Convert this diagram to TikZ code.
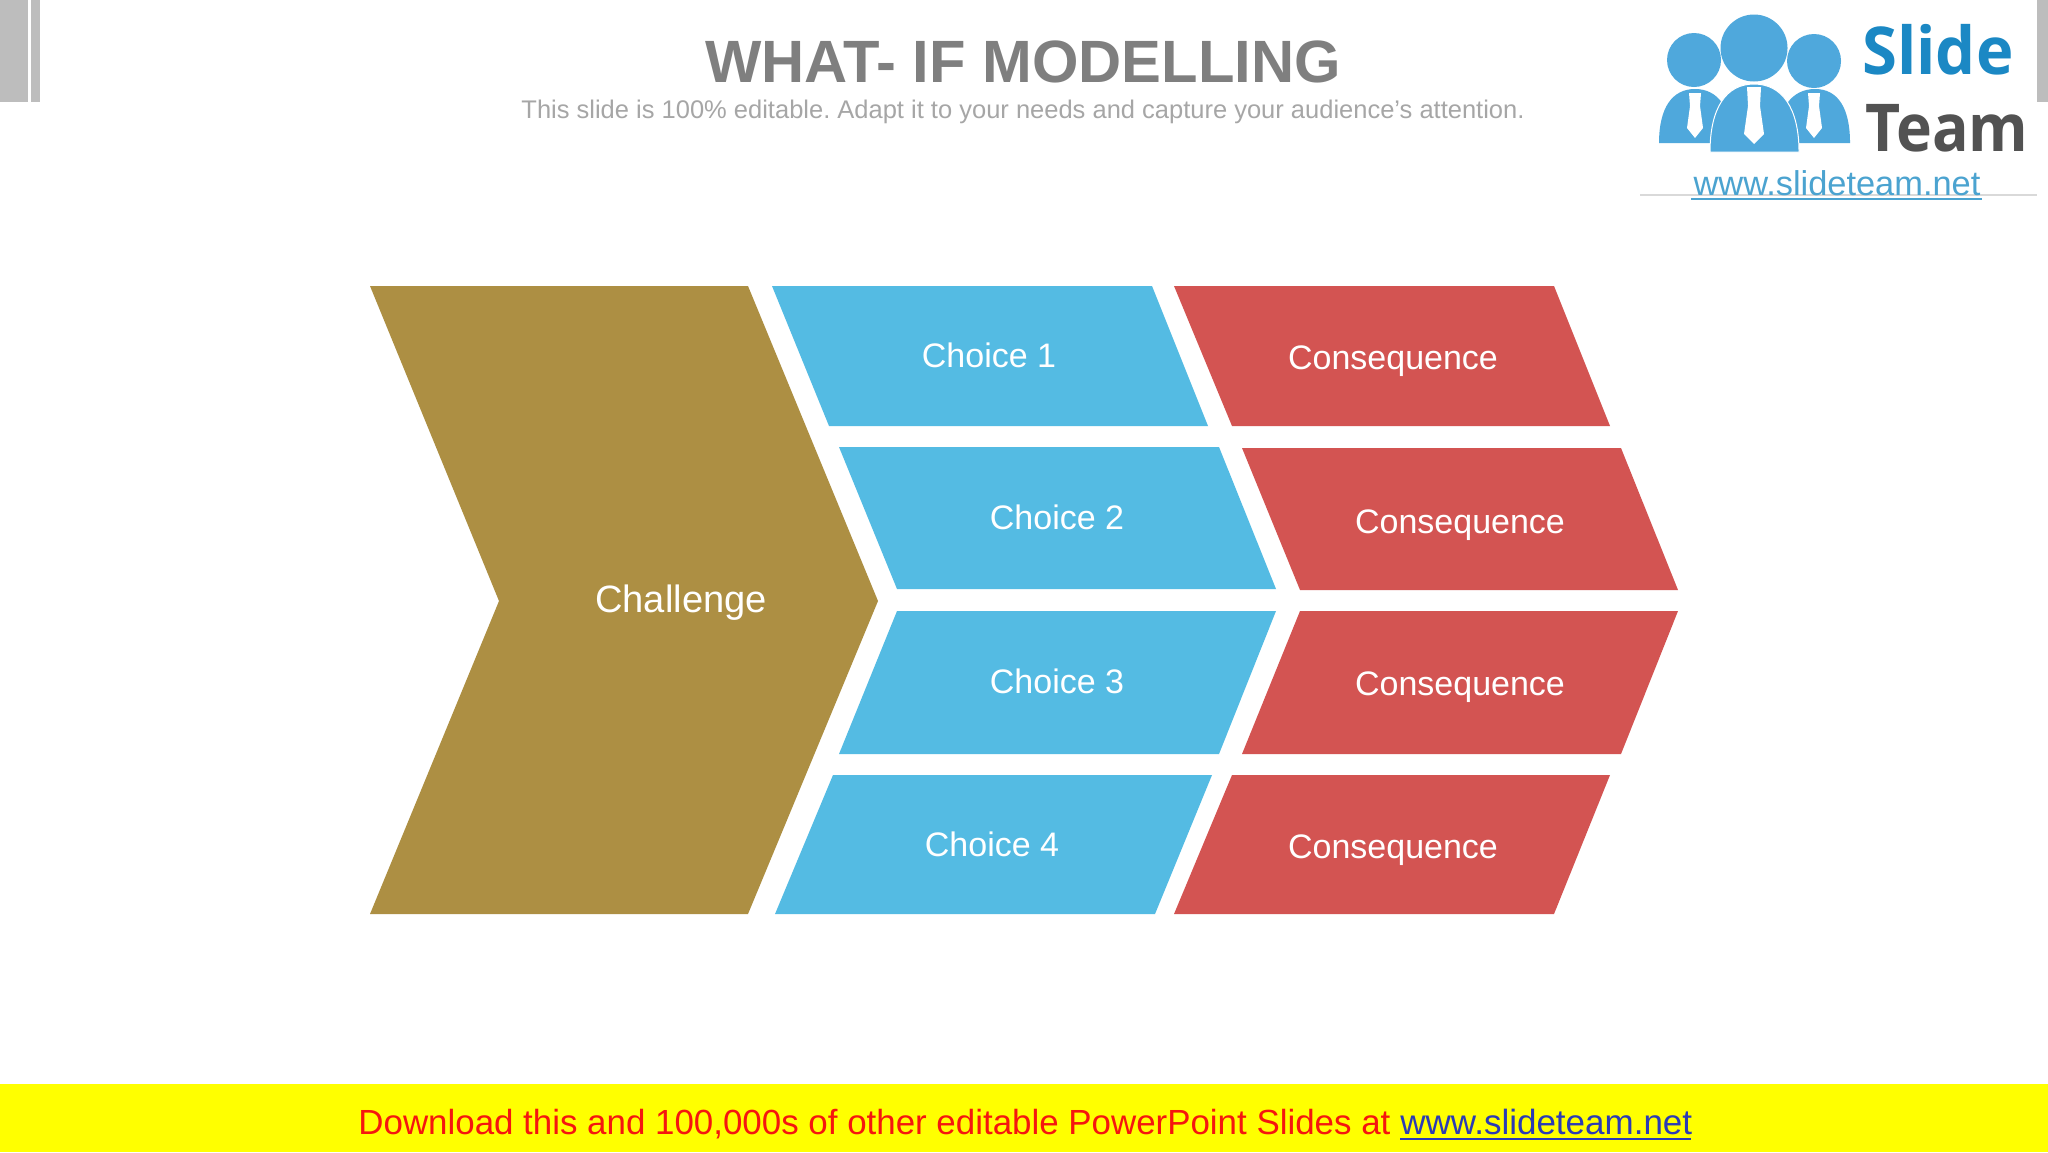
\documentclass[tikz,border=0pt]{standalone}
\usepackage{fontspec}
\setmainfont{Liberation Sans}
\newfontfamily\logofont{Open Sans}
\usetikzlibrary{calc}
\definecolor{gold}{HTML}{AD8F43}
\definecolor{sky}{HTML}{54BBE3}
\definecolor{brick}{HTML}{D35452}
\definecolor{barg}{HTML}{BDBDBD}
\definecolor{logob}{HTML}{4FA8DC}
\definecolor{logod}{HTML}{1B88C4}
\definecolor{linkb}{HTML}{4BA3D0}
\definecolor{bandy}{HTML}{FFFF00}
\definecolor{footred}{HTML}{F5160F}
\definecolor{footblue}{HTML}{2B3BB5}
\definecolor{titleg}{HTML}{7F7F7F}
\definecolor{subg}{HTML}{A6A6A6}
\newcommand{\fs}[1]{\fontsize{#1}{#1}\selectfont}
\tikzset{
 x=0.5pt,y=-0.5pt,
 label/.style={text=white,inner sep=0pt,anchor=center,font=\fs{17}},
 goldshape/.style={fill=gold},
 skyshape/.style={fill=sky},
 brickshape/.style={fill=brick},
 logofill/.style={fill=logob},
 tie/.style={fill=white},
}
\begin{document}
\begin{tikzpicture}
\useasboundingbox (0,0) rectangle (2048,1152);
\fill[white] (0,0) rectangle (2048,1152);
% corner bars
\fill[barg] (0,0) rectangle (28,102);
\fill[barg] (31,0) rectangle (40,102);
\fill[gray!12] (2010,0) rectangle (2017,102);
\fill[barg] (2037,0) rectangle (2048,102);
% title
\node[inner sep=0pt,text=titleg,font=\fs{29.85}\bfseries] (title) at (1023,62) {WHAT- IF MODELLING};
\node[inner sep=0pt,text=subg,font=\fs{12.75}] (sub) at (1023,112) {\frenchspacing This slide is 100\% editable. Adapt it to your needs and capture your audience{\char"27}s attention.};
% challenge
\fill[goldshape] (370,286) -- (748,286) -- (878,601) -- (748,914) -- (370,914) -- (499,601) -- cycle;
\node[label,font=\fs{19.05}] (challenge) at (681,603) {Challenge};
% choices
\fill[skyshape] (772,286) -- (1152,286) -- (1208,426) -- (829,426) -- cycle;
\fill[skyshape] (839,447) -- (1219,447) -- (1276,589) -- (897,589) -- cycle;
\fill[skyshape] (897,611) -- (1276,611) -- (1219,754) -- (839,754) -- cycle;
\fill[skyshape] (833,775) -- (1212,775) -- (1155,914) -- (775,914) -- cycle;
\node[label] (c1) at (989,355) {Choice 1};
\node[label] (c2) at (1057,517) {Choice 2};
\node[label] (c3) at (1057,681) {Choice 3};
\node[label] (c4) at (992,844) {Choice 4};
% consequences
\fill[brickshape] (1174,286) -- (1554,286) -- (1610,426) -- (1232,426) -- cycle;
\fill[brickshape] (1242,448) -- (1621,448) -- (1678,590) -- (1300,590) -- cycle;
\fill[brickshape] (1300,611) -- (1678,611) -- (1621,754) -- (1242,754) -- cycle;
\fill[brickshape] (1232,775) -- (1610,775) -- (1554,914) -- (1174,914) -- cycle;
\node[label] (d1) at (1393,361) {Consequence};
\node[label] (d2) at (1460,525) {Consequence};
\node[label] (d3) at (1460,687) {Consequence};
\node[label] (d4) at (1393,850) {Consequence};
% logo
\fill[white] (1640,0) rectangle (2037,102);
\fill[white] (1640,102) rectangle (2048,195);
\draw[black!15,line width=0.6pt] (1640,195) -- (2037,195);
\fill[logofill] (1694,60) circle (27);
\fill[logofill] (1814,61) circle (27);
\fill[logofill] (1754,48) circle (33.5);
\fill[logofill] (1659,143) .. controls (1659,108) and (1672,89) .. (1695,89) .. controls (1718,89) and (1732,108) .. (1732,143) -- cycle;
\fill[logofill] (1777,143) .. controls (1777,108) and (1792,89) .. (1815,89) .. controls (1838,89) and (1850,108) .. (1850,143) -- cycle;
\draw[white,line width=0.5pt,fill=logob] (1710,152) .. controls (1710,108) and (1726,84) .. (1754,84) .. controls (1782,84) and (1799,108) .. (1799,152) -- cycle;
\fill[tie] (1689,93) -- (1701,93) -- (1700,106) -- (1703,128) -- (1695,138) -- (1687,128) -- (1690,106) -- cycle;
\fill[tie] (1808,93) -- (1820,93) -- (1819,106) -- (1822,128) -- (1814,138) -- (1806,128) -- (1809,106) -- cycle;
\fill[tie] (1747,87) -- (1761,87) -- (1760,106) -- (1764,134) -- (1754,144) -- (1744,134) -- (1748,106) -- cycle;
\node[inner sep=0pt,anchor=base west,text=logod,font=\logofont\fs{33}\bfseries,xscale=0.96] (slide) at (1862,74) {Slide};
\node[inner sep=0pt,anchor=base west,text=black!68,font=\logofont\fs{33}\bfseries,xscale=0.92] (team) at (1865,151) {Team};
\node[inner sep=0pt,anchor=base,text=linkb,font=\fs{17.2}] (web) at (1837,195) {www.slideteam.net};
\draw[linkb,line width=1pt] (1691,199) -- (1982,199);
% footer
\fill[bandy] (0,1084) rectangle (2048,1152);
\node[inner sep=0pt,anchor=base west,text=footred,font=\fs{17.45}] (foot) at (358,1134) {Download this and 100,000s of other editable PowerPoint Slides at};
\node[inner sep=0pt,anchor=base west,text=footblue,font=\fs{17.5}] (footlink) at (1400,1134) {www.slideteam.net};
\draw[footblue,line width=0.9pt] (1400,1139) -- (1691,1139);
\end{tikzpicture}
\end{document}
